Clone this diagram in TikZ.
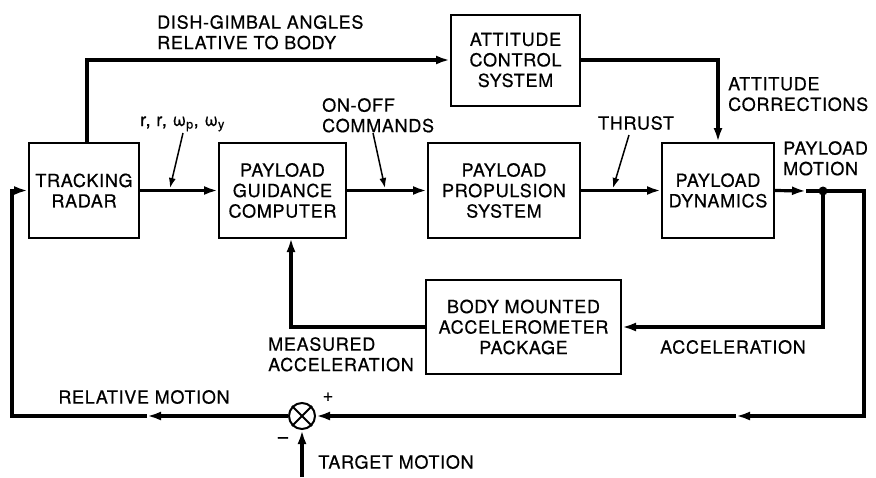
\documentclass[tikz,border=0pt]{standalone}
\usepackage{fontspec}
\setmainfont[LetterSpace=4,FakeBold=0.6]{TeX Gyre Heros}
\usetikzlibrary{arrows.meta}

\begin{document}
\begin{tikzpicture}[x=1pt, y=-1pt,
        >={Latex[length=14pt,width=9pt]},
        block/.style = {draw, line width=2pt, align=center, inner sep=0pt},
          sig/.style = {line width=3.2pt},
       pinarr/.style = {line width=1.5pt, -{Latex[length=10pt,width=7pt]}},
          lab/.style = {inner sep=0pt, align=left},
             font = \fontsize{18}{20.5}\selectfont
                                ]
    \useasboundingbox (0,0) rectangle (876,477);
    % blocks
    \node[block, minimum width=110, minimum height=95] (radar) at (84,190.5)
        {TRACKING\\RADAR};
    \node[block, minimum width=127, minimum height=95] (guid) at (282.5,190.5)
        {PAYLOAD\\GUIDANCE\\COMPUTER};
    \node[block, minimum width=152, minimum height=95] (prop) at (504,190.5)
        {PAYLOAD\\PROPULSION\\SYSTEM};
    \node[block, minimum width=112, minimum height=95] (dyn) at (718,190.5)
        {PAYLOAD\\DYNAMICS};
    \node[block, minimum width=129, minimum height=91] (att) at (515.5,60)
        {ATTITUDE\\CONTROL\\SYSTEM};
    \node[block, minimum width=195, minimum height=94] (acc) at (523.5,327)
        {BODY MOUNTED\\ACCELEROMETER\\PACKAGE};
    % summing junction and branch point
    \node[draw, circle, line width=2pt, minimum size=26, inner sep=0pt] (sum) at (302,416) {};
    \draw[line width=2pt] (sum.north west) -- (sum.south east)
                          (sum.north east) -- (sum.south west);
    \node[circle, fill, inner sep=0pt, minimum size=9] (dot) at (823,191) {};

    % bend points
    \coordinate (da) at (806,191);
    \coordinate (br) at (864,416);
    \coordinate (ra) at (736,416);
    \coordinate (la) at (147,416);
    \coordinate (bl) at (12,416);
    \coordinate (mx) at (291,238);
    \coordinate (tm) at (302,477);

    % forward path
    \draw[sig,->] (radar.east) -- (guid.west);
    \draw[sig,->] (guid.east) -- (prop.west);
    \draw[sig,->] (prop.east) -- (dyn.west);
    \draw[sig,->] (dyn.east) -- (da);
    \draw[sig] (da) -- (dot.center);
    \draw[sig,->] ([xshift=3]radar.north) |- (att.west);
    \draw[sig,->] (att.east) -| (dyn.north);

    % feedback paths
    \draw[sig,->] (dot.center) |- (acc.east);
    \draw[sig,->] (acc.west) -| (mx);
    \draw[sig,->] (dot.center) -| (br) -- (ra);
    \draw[sig,->] (ra) -- (sum.east);
    \draw[sig,->] (sum.west) -- (la);
    \draw[sig,->] (la) -- (bl) |- (radar.west);
    \draw[sig,->] (tm) -- (sum.south);

    % labels
    \node[lab, anchor=north west] (dish) at (157,15) {DISH-GIMBAL ANGLES\\RELATIVE TO BODY};
    \node[lab, anchor=base west] (rlab) at (140,126)
        {r, r, ω\textsubscript{p}, ω\textsubscript{y}};
    \node[lab, anchor=north west] (onoff) at (322,98) {ON-OFF\\COMMANDS};
    \node[lab] (thr) at (636,123) {THRUST};
    \node[lab, anchor=north west] (corr) at (728,77) {ATTITUDE\\CORRECTIONS};
    \node[lab, anchor=north west] (pmot) at (783,141) {PAYLOAD\\MOTION};
    \node[lab, anchor=north west] (macc) at (268,337) {MEASURED\\ACCELERATION};
    \node[lab] (acclab) at (733,347) {ACCELERATION};
    \node[lab] (rel) at (144,397) {RELATIVE MOTION};
    \node[lab] (tgt) at (396,462) {TARGET MOTION};
    \node[lab] (plus) at (328,397) {+};
    \node[lab] (minus) at (283,440) {--};

    % pointers from the labels
    \coordinate (r1) at (183,133);
    \coordinate (r2) at (170,188);
    \coordinate (c1) at (373,133);
    \coordinate (c2) at (385,188);
    \coordinate (t1) at (629,135);
    \coordinate (t2) at (613,188);
    \draw[pinarr] (r1) -- (r2);
    \draw[pinarr] (c1) -- (c2);
    \draw[pinarr] (t1) -- (t2);
\end{tikzpicture}
\end{document}
